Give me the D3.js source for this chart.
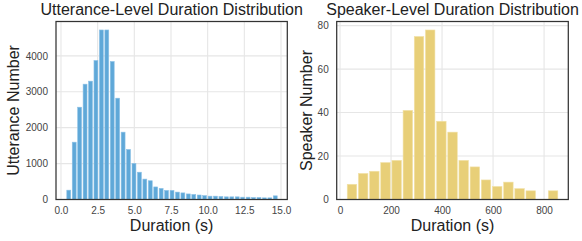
<!DOCTYPE html>
<html><head><meta charset="utf-8">
<script src="https://cdn.jsdelivr.net/npm/d3@7"></script>
<style>body{margin:0;background:#fff}text{font-family:"Liberation Sans",Arial,sans-serif}</style>
</head><body><svg id="c" width="582" height="241"></svg>
<script>
// Utterance-level histogram (durations in seconds)
const uttBinStart = 0.345, uttBinWidth = 0.3705;
const uttCounts = [260,1596,2570,3211,3295,3870,4720,4720,3842,2821,1875,1392,1004,760,568,522,350,308,253,253,206,184,155,140,125,108,93,93,84,74,74,74,65,65,56,56,46,46,102];
const uttXTicks = [0,2.5,5,7.5,10,12.5,15];
const uttYTicks = [0,1000,2000,3000,4000];
// Speaker-level histogram (durations in seconds)
const spkBinStart = 25, spkBinWidth = 43.8;
const spkCounts = [7,12,13,17,18,41,75,78,36,31,18,15,9,6,8,5,4,0,4];
const spkXTicks = [0,200,400,600,800];
const spkYTicks = [0,20,40,60,80];

const svg = d3.select("#c");

function panel(o){
  const g = svg.append("g");
  const x = d3.scaleLinear().domain(o.xdom).range([o.x0,o.x1]);
  const ymax = d3.max(o.counts)*1.05;
  const y = d3.scaleLinear().domain([0,ymax]).range([o.y1,o.y0]);
  // grid
  g.selectAll(".gx").data(o.xt).join("line")
    .attr("x1",d=>x(d)).attr("x2",d=>x(d)).attr("y1",o.y0).attr("y2",o.y1)
    .attr("stroke","#e6e6e6").attr("stroke-width",1.1);
  g.selectAll(".gy").data(o.yt).join("line")
    .attr("y1",d=>y(d)).attr("y2",d=>y(d)).attr("x1",o.x0).attr("x2",o.x1)
    .attr("stroke","#e6e6e6").attr("stroke-width",1.1);
  // bars
  const bins = o.counts.map((c,i)=>({x0:o.start+i*o.width, x1:o.start+(i+1)*o.width, c}));
  g.selectAll(".b").data(bins.filter(d=>d.c>0)).join("rect")
    .attr("x",d=>{const w=x(d.x1)-x(d.x0);return x(d.x0)+w*(1-o.frac)/2;})
    .attr("width",d=>(x(d.x1)-x(d.x0))*o.frac)
    .attr("y",d=>y(d.c)).attr("height",d=>y(0)-y(d.c))
    .attr("fill",o.color).attr("stroke",o.edge).attr("stroke-width",0.6);
  // spines
  g.append("rect").attr("x",o.x0).attr("y",o.y0).attr("width",o.x1-o.x0).attr("height",o.y1-o.y0)
    .attr("fill","none").attr("stroke","#333").attr("stroke-width",1.25);
  // tick labels
  const xAxis = d3.axisBottom(x).tickValues(o.xt).tickSize(0).tickPadding(0).tickFormat(o.xf);
  const ga = g.append("g").attr("transform",`translate(0,${o.y1+11})`).call(xAxis);
  ga.select(".domain").remove();
  ga.selectAll("text").attr("font-size",10).attr("fill","#444").attr("font-family","Liberation Sans, Arial, sans-serif").attr("dy","0.35em");
  const yAxis = d3.axisLeft(y).tickValues(o.yt).tickSize(0).tickPadding(8).tickFormat(d3.format("d"));
  const gb = g.append("g").attr("transform",`translate(${o.x0},0)`).call(yAxis);
  gb.select(".domain").remove();
  gb.selectAll("text").attr("font-size",10).attr("fill","#444").attr("font-family","Liberation Sans, Arial, sans-serif");
  // titles
  g.append("text").attr("x",(o.x0+o.x1)/2).attr("y",14.5).attr("text-anchor","middle")
    .attr("font-size",16).attr("fill","#222").text(o.title);
  g.append("text").attr("x",(o.x0+o.x1)/2).attr("y",231).attr("text-anchor","middle")
    .attr("font-size",16).attr("fill","#222").text(o.xlabel);
  g.append("text").attr("transform",`translate(${o.ylx},${(o.y0+o.y1)/2}) rotate(-90)`)
    .attr("text-anchor","middle").attr("font-size",16).attr("fill","#222").text(o.ylabel);
}

panel({x0:56,x1:287.3,y0:21.5,y1:199.5,xdom:[-0.34,15.43],counts:uttCounts,start:uttBinStart,width:uttBinWidth,
  xt:uttXTicks,yt:uttYTicks,xf:d3.format(".1f"),color:"#5fa8d8",edge:"#8cc1e6",frac:0.72,
  title:"Utterance-Level Duration Distribution",xlabel:"Duration (s)",ylabel:"Utterance Number",ylx:19});
panel({x0:336.7,x1:568.3,y0:21.5,y1:199.5,xdom:[-13,895],counts:spkCounts,start:spkBinStart,width:spkBinWidth,
  xt:spkXTicks,yt:spkYTicks,xf:d3.format("d"),color:"#e8cf78",edge:"#f2e2a8",frac:0.85,
  title:"Speaker-Level Duration Distribution",xlabel:"Duration (s)",ylabel:"Speaker Number",ylx:311.5});
</script></body></html>
